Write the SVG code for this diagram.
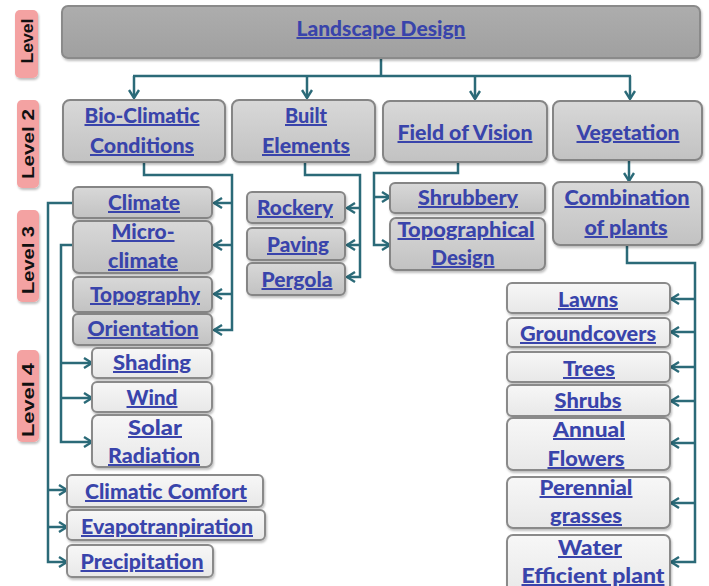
<svg xmlns="http://www.w3.org/2000/svg" width="709" height="586" viewBox="0 0 709 586">
  <defs>
    <linearGradient id="gGray" x1="0" y1="0" x2="0" y2="1">
      <stop offset="0" stop-color="#d8d8d8"/>
      <stop offset="1" stop-color="#c2c2c2"/>
    </linearGradient>
    <linearGradient id="gLight" x1="0" y1="0" x2="0" y2="1">
      <stop offset="0" stop-color="#f7f7f7"/>
      <stop offset="1" stop-color="#e8e8e8"/>
    </linearGradient>
    <linearGradient id="gTop" x1="0" y1="0" x2="0" y2="1">
      <stop offset="0" stop-color="#adadad"/>
      <stop offset="1" stop-color="#a0a0a0"/>
    </linearGradient>
    <filter id="shadow" x="-10%" y="-20%" width="120%" height="150%">
      <feDropShadow dx="1" dy="2" stdDeviation="1.2" flood-color="#000" flood-opacity="0.25"/>
    </filter>
    <marker id="arrow" viewBox="0 0 10 12" refX="9" refY="6" markerWidth="10" markerHeight="12" markerUnits="userSpaceOnUse" orient="auto">
      <path d="M1,1 L9,6 L1,11" fill="none" stroke="#2b6a78" stroke-width="2.4"/>
    </marker>
  </defs>
  <style>
    .top { fill: url(#gTop); stroke: #8a8a8a; stroke-width: 2; filter: url(#shadow); }
    .bg { fill: url(#gGray); stroke: #858585; stroke-width: 2; filter: url(#shadow); }
    .bl { fill: url(#gLight); stroke: #8a8a8a; stroke-width: 2; filter: url(#shadow); }
    .t { font-family: Lato, "Open Sans", "Liberation Sans", sans-serif; font-weight: 900; font-size: 20px; fill: #3944ab; text-anchor: middle; text-decoration: underline; }
    .lvbox { fill: #f4a2a2; filter: url(#shadow); }
    .lv { font-family: "Liberation Sans", Arial, sans-serif; font-weight: bold; font-size: 17px; fill: #111; text-anchor: middle; dominant-baseline: central; }
    .c { fill: none; stroke: #2b6a78; stroke-width: 2.5; stroke-linejoin: miter; }
    .a { marker-end: url(#arrow); }
  </style>

  <rect width="709" height="586" fill="#ffffff"/>

  <!-- level tags -->
  <g id="level-tags">
    <rect class="lvbox" x="15" y="10" width="23" height="68" rx="5"/>
    <text class="lv" transform="rotate(-90 27 41)" x="27" y="41" textLength="45" lengthAdjust="spacingAndGlyphs">Level</text>
    <rect class="lvbox" x="17" y="100" width="22" height="88" rx="5"/>
    <text class="lv" transform="rotate(-90 28 144)" x="28" y="144" textLength="70" lengthAdjust="spacingAndGlyphs">Level  2</text>
    <rect class="lvbox" x="17" y="210" width="22" height="92" rx="5"/>
    <text class="lv" transform="rotate(-90 28 260)" x="28" y="260" textLength="68" lengthAdjust="spacingAndGlyphs">Level  3</text>
    <rect class="lvbox" x="17" y="350" width="22" height="92" rx="5"/>
    <text class="lv" transform="rotate(-90 28 400)" x="28" y="400" textLength="74" lengthAdjust="spacingAndGlyphs">Level  4</text>
  </g>

  <!-- connectors -->
  <g id="connectors">
    <!-- level 1 to level 2 -->
    <path class="c" d="M381,58 V76 M133,76 H631"/>
    <path class="c a" d="M134,76 V98"/>
    <path class="c a" d="M307,76 V98"/>
    <path class="c a" d="M475,76 V99"/>
    <path class="c a" d="M630,76 V99"/>
    <!-- bio-climatic conditions -->
    <path class="c a" d="M144,162 V175 H232 V330 H214"/>
    <path class="c a" d="M232,203 H214"/>
    <path class="c a" d="M232,245 H214"/>
    <path class="c a" d="M232,294 H214"/>
    <!-- climate -->
    <path class="c a" d="M73,203 H48 V562 H67"/>
    <path class="c a" d="M48,490 H67"/>
    <path class="c a" d="M48,527 H67"/>
    <!-- micro-climate -->
    <path class="c a" d="M73,245 H61 V442 H92"/>
    <path class="c a" d="M61,363 H92"/>
    <path class="c a" d="M61,398 H92"/>
    <!-- built elements -->
    <path class="c a" d="M305,162 V175 H360 V277 H347"/>
    <path class="c a" d="M360,208 H347"/>
    <path class="c a" d="M360,245 H347"/>
    <!-- field of vision -->
    <path class="c a" d="M458,162 V173 H374 V245 H390"/>
    <path class="c a" d="M374,197 H390"/>
    <!-- vegetation -->
    <path class="c a" d="M629,160 V181"/>
    <!-- combination of plants -->
    <path class="c a" d="M627,245 V263 H695 V562 H671"/>
    <path class="c a" d="M695,299 H671"/>
    <path class="c a" d="M695,332 H671"/>
    <path class="c a" d="M695,367 H671"/>
    <path class="c a" d="M695,401 H671"/>
    <path class="c a" d="M695,443 H671"/>
    <path class="c a" d="M695,503 H671"/>
  </g>

  <!-- level 1 -->
  <g id="landscape-design">
    <rect class="top" x="62" y="6" width="638" height="52" rx="6"/>
    <text class="t" x="381" y="36" textLength="169" lengthAdjust="spacingAndGlyphs">Landscape Design</text>
  </g>

  <!-- level 2 -->
  <g id="bio-climatic">
    <rect class="bg" x="63" y="100" width="162" height="62" rx="7"/>
    <text class="t" x="142" y="123" textLength="115" lengthAdjust="spacingAndGlyphs">Bio-Climatic</text>
    <text class="t" x="142" y="153" textLength="104" lengthAdjust="spacingAndGlyphs">Conditions</text>
  </g>
  <g id="built-elements">
    <rect class="bg" x="232" y="100" width="143" height="62" rx="7"/>
    <text class="t" x="306" y="123" textLength="42" lengthAdjust="spacingAndGlyphs">Built</text>
    <text class="t" x="306" y="153" textLength="88" lengthAdjust="spacingAndGlyphs">Elements</text>
  </g>
  <g id="field-of-vision">
    <rect class="bg" x="383" y="101" width="164" height="61" rx="7"/>
    <text class="t" x="465" y="140" textLength="135" lengthAdjust="spacingAndGlyphs">Field of Vision</text>
  </g>
  <g id="vegetation">
    <rect class="bg" x="553" y="101" width="149" height="59" rx="7"/>
    <text class="t" x="628" y="140" textLength="103" lengthAdjust="spacingAndGlyphs">Vegetation</text>
  </g>

  <!-- level 3 : bio-climatic -->
  <g id="climate">
    <rect class="bg" x="73" y="187" width="139" height="31" rx="5"/>
    <text class="t" x="144" y="210" textLength="72" lengthAdjust="spacingAndGlyphs">Climate</text>
  </g>
  <g id="micro-climate">
    <rect class="bg" x="73" y="221" width="139" height="52" rx="6"/>
    <text class="t" x="143" y="239" textLength="63" lengthAdjust="spacingAndGlyphs">Micro-</text>
    <text class="t" x="143" y="268" textLength="70" lengthAdjust="spacingAndGlyphs">climate</text>
  </g>
  <g id="topography">
    <rect class="bg" x="73" y="277" width="139" height="35" rx="5"/>
    <text class="t" x="145" y="302" textLength="110" lengthAdjust="spacingAndGlyphs">Topography</text>
  </g>
  <g id="orientation">
    <rect class="bg" x="73" y="314" width="139" height="31" rx="5"/>
    <text class="t" x="143" y="336" textLength="111" lengthAdjust="spacingAndGlyphs">Orientation</text>
  </g>

  <!-- level 4 : micro-climate -->
  <g id="shading">
    <rect class="bl" x="92" y="348" width="120" height="30" rx="5"/>
    <text class="t" x="152" y="370" textLength="78" lengthAdjust="spacingAndGlyphs">Shading</text>
  </g>
  <g id="wind">
    <rect class="bl" x="92" y="382" width="120" height="30" rx="5"/>
    <text class="t" x="152" y="405" textLength="51" lengthAdjust="spacingAndGlyphs">Wind</text>
  </g>
  <g id="solar-radiation">
    <rect class="bl" x="92" y="415" width="120" height="52" rx="6"/>
    <text class="t" x="155" y="435" textLength="54" lengthAdjust="spacingAndGlyphs">Solar</text>
    <text class="t" x="154" y="463" textLength="92" lengthAdjust="spacingAndGlyphs">Radiation</text>
  </g>

  <!-- level 4 : climate -->
  <g id="climatic-comfort">
    <rect class="bl" x="67" y="475" width="196" height="32" rx="5"/>
    <text class="t" x="166" y="499" textLength="162" lengthAdjust="spacingAndGlyphs">Climatic Comfort</text>
  </g>
  <g id="evapotranpiration">
    <rect class="bl" x="67" y="510" width="198" height="30" rx="5"/>
    <text class="t" x="167" y="534" textLength="172" lengthAdjust="spacingAndGlyphs">Evapotranpiration</text>
  </g>
  <g id="precipitation">
    <rect class="bl" x="67" y="545" width="146" height="32" rx="5"/>
    <text class="t" x="142" y="569" textLength="123" lengthAdjust="spacingAndGlyphs">Precipitation</text>
  </g>

  <!-- level 3 : built elements -->
  <g id="rockery">
    <rect class="bg" x="247" y="192" width="98" height="31" rx="5"/>
    <text class="t" x="295" y="215" textLength="76" lengthAdjust="spacingAndGlyphs">Rockery</text>
  </g>
  <g id="paving">
    <rect class="bg" x="247" y="228" width="98" height="32" rx="5"/>
    <text class="t" x="298" y="252" textLength="62" lengthAdjust="spacingAndGlyphs">Paving</text>
  </g>
  <g id="pergola">
    <rect class="bg" x="247" y="263" width="98" height="32" rx="5"/>
    <text class="t" x="297" y="287" textLength="71" lengthAdjust="spacingAndGlyphs">Pergola</text>
  </g>

  <!-- level 3 : field of vision -->
  <g id="shrubbery">
    <rect class="bg" x="390" y="183" width="155" height="30" rx="5"/>
    <text class="t" x="468" y="205" textLength="100" lengthAdjust="spacingAndGlyphs">Shrubbery</text>
  </g>
  <g id="topographical-design">
    <rect class="bg" x="390" y="218" width="155" height="52" rx="6"/>
    <text class="t" x="466" y="237" textLength="137" lengthAdjust="spacingAndGlyphs">Topographical</text>
    <text class="t" x="463" y="265" textLength="63" lengthAdjust="spacingAndGlyphs">Design</text>
  </g>

  <!-- level 3 : vegetation -->
  <g id="combination-of-plants">
    <rect class="bg" x="553" y="182" width="149" height="63" rx="7"/>
    <text class="t" x="627" y="205" textLength="125" lengthAdjust="spacingAndGlyphs">Combination</text>
    <text class="t" x="626" y="235" textLength="83" lengthAdjust="spacingAndGlyphs">of plants</text>
  </g>

  <!-- level 4 : plant types -->
  <g id="lawns">
    <rect class="bl" x="507" y="283" width="163" height="30" rx="5"/>
    <text class="t" x="588" y="307" textLength="60" lengthAdjust="spacingAndGlyphs">Lawns</text>
  </g>
  <g id="groundcovers">
    <rect class="bl" x="507" y="318" width="163" height="29" rx="5"/>
    <text class="t" x="588" y="341" textLength="136" lengthAdjust="spacingAndGlyphs">Groundcovers</text>
  </g>
  <g id="trees">
    <rect class="bl" x="507" y="352" width="163" height="30" rx="5"/>
    <text class="t" x="589" y="376" textLength="52" lengthAdjust="spacingAndGlyphs">Trees</text>
  </g>
  <g id="shrubs">
    <rect class="bl" x="507" y="385" width="163" height="31" rx="5"/>
    <text class="t" x="588" y="408" textLength="67" lengthAdjust="spacingAndGlyphs">Shrubs</text>
  </g>
  <g id="annual-flowers">
    <rect class="bl" x="507" y="418" width="163" height="52" rx="6"/>
    <text class="t" x="589" y="437" textLength="72" lengthAdjust="spacingAndGlyphs">Annual</text>
    <text class="t" x="586" y="466" textLength="77" lengthAdjust="spacingAndGlyphs">Flowers</text>
  </g>
  <g id="perennial-grasses">
    <rect class="bl" x="507" y="477" width="163" height="51" rx="6"/>
    <text class="t" x="586" y="495" textLength="93" lengthAdjust="spacingAndGlyphs">Perennial</text>
    <text class="t" x="586" y="523" textLength="72" lengthAdjust="spacingAndGlyphs">grasses</text>
  </g>
  <g id="water-efficient-plant">
    <rect class="bl" x="507" y="535" width="163" height="60" rx="6"/>
    <text class="t" x="590" y="555" textLength="64" lengthAdjust="spacingAndGlyphs">Water</text>
    <text class="t" x="593" y="583" textLength="143" lengthAdjust="spacingAndGlyphs">Efficient plant</text>
  </g>
</svg>
